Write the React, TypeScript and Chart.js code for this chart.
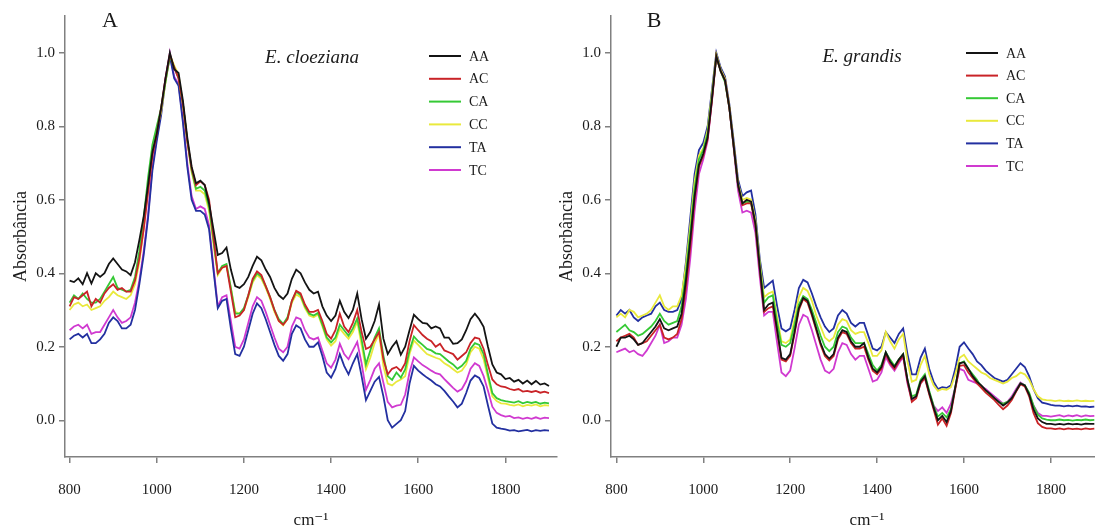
import React, { useEffect, useRef } from 'react';
import { Chart, registerables } from 'chart.js';

Chart.register(...registerables);
Chart.defaults.font.family = '"Liberation Serif", "DejaVu Serif", serif';

// ---------- data ----------
const wavenumbers = [
  800, 810, 820, 830, 840, 850, 860, 870, 880, 890,
  900, 910, 920, 930, 940, 950, 960, 970, 980, 990,
  1000, 1010, 1020, 1030, 1040, 1050, 1060, 1070, 1080, 1090,
  1100, 1110, 1120, 1130, 1140, 1150, 1160, 1170, 1180, 1190,
  1200, 1210, 1220, 1230, 1240, 1250, 1260, 1270, 1280, 1290,
  1300, 1310, 1320, 1330, 1340, 1350, 1360, 1370, 1380, 1390,
  1400, 1410, 1420, 1430, 1440, 1450, 1460, 1470, 1480, 1490,
  1500, 1510, 1520, 1530, 1540, 1550, 1560, 1570, 1580, 1590,
  1600, 1610, 1620, 1630, 1640, 1650, 1660, 1670, 1680, 1690,
  1700, 1710, 1720, 1730, 1740, 1750, 1760, 1770, 1780, 1790,
  1800, 1810, 1820, 1830, 1840, 1850, 1860, 1870, 1880, 1890,
  1900,
];

const seriesLabels = ['AA', 'AC', 'CA', 'CC', 'TA', 'TC'];
const xTicks = [800, 1000, 1200, 1400, 1600, 1800];
const yTicks = [0.0, 0.2, 0.4, 0.6, 0.8, 1.0];

// Panel A: E. cloeziana
const cloezianaAA = [
  0.38, 0.376, 0.386, 0.37, 0.40, 0.372, 0.40, 0.39, 0.40, 0.425,
  0.44, 0.425, 0.41, 0.405, 0.395, 0.43, 0.49, 0.555, 0.64, 0.73,
  0.78, 0.85, 0.93, 1.0, 0.955, 0.945, 0.87, 0.77, 0.69, 0.645,
  0.652, 0.64, 0.59, 0.52, 0.45, 0.455, 0.47, 0.41, 0.365, 0.36,
  0.37, 0.39, 0.42, 0.445, 0.435, 0.41, 0.39, 0.36, 0.34, 0.33,
  0.345, 0.385, 0.41, 0.40, 0.375, 0.355, 0.345, 0.35, 0.31, 0.285,
  0.27, 0.285, 0.325, 0.295, 0.278, 0.30, 0.345, 0.275, 0.222, 0.24,
  0.27, 0.315, 0.222, 0.18, 0.2, 0.215, 0.178, 0.2, 0.245, 0.287,
  0.275, 0.265, 0.263, 0.25, 0.255, 0.25, 0.225, 0.225, 0.208, 0.21,
  0.22, 0.245, 0.275, 0.29, 0.275, 0.254, 0.2, 0.152, 0.13, 0.125,
  0.112, 0.115, 0.105, 0.11, 0.1, 0.108, 0.098, 0.107, 0.097, 0.1,
  0.093,
];
const cloezianaAC = [
  0.31, 0.335, 0.33, 0.34, 0.35, 0.31, 0.33, 0.32, 0.345, 0.36,
  0.37, 0.355, 0.36, 0.35, 0.35, 0.38, 0.44, 0.52, 0.62, 0.72,
  0.78, 0.85, 0.93, 0.995, 0.96, 0.93, 0.86, 0.76, 0.685, 0.64,
  0.65, 0.64, 0.60, 0.50, 0.40, 0.415, 0.42, 0.35, 0.28, 0.285,
  0.30, 0.34, 0.385, 0.405, 0.395, 0.365, 0.335, 0.30, 0.27, 0.26,
  0.275, 0.325, 0.352, 0.345, 0.315, 0.295, 0.295, 0.30, 0.27, 0.235,
  0.222, 0.245, 0.29, 0.255, 0.24, 0.265, 0.30, 0.24, 0.194, 0.2,
  0.22, 0.24, 0.166, 0.125, 0.14, 0.145, 0.134, 0.155, 0.215, 0.259,
  0.245, 0.232, 0.222, 0.215, 0.2, 0.208, 0.19, 0.185, 0.18, 0.165,
  0.175, 0.185, 0.21, 0.225, 0.222, 0.194, 0.15, 0.111, 0.098, 0.092,
  0.09, 0.085, 0.082, 0.085, 0.078, 0.08, 0.077, 0.08, 0.075, 0.078,
  0.074,
];
const cloezianaCA = [
  0.32, 0.34, 0.33, 0.345, 0.33, 0.32, 0.32, 0.33, 0.35, 0.37,
  0.39, 0.36, 0.355, 0.35, 0.355, 0.39, 0.46, 0.55, 0.66, 0.75,
  0.80, 0.85, 0.92, 0.99, 0.96, 0.93, 0.86, 0.76, 0.68, 0.63,
  0.635, 0.625, 0.58, 0.49, 0.40, 0.42, 0.425, 0.36, 0.29, 0.29,
  0.305, 0.34, 0.38, 0.40, 0.39, 0.365, 0.335, 0.30, 0.275, 0.262,
  0.28, 0.325, 0.35, 0.34, 0.31, 0.29, 0.285, 0.292, 0.26, 0.225,
  0.212, 0.225, 0.26, 0.245, 0.23, 0.25, 0.277, 0.22, 0.152, 0.19,
  0.225, 0.25, 0.176, 0.12, 0.11, 0.13, 0.116, 0.138, 0.19, 0.228,
  0.215, 0.205, 0.194, 0.19, 0.182, 0.18, 0.17, 0.16, 0.152, 0.14,
  0.148, 0.162, 0.195, 0.21, 0.205, 0.18, 0.125, 0.074, 0.06, 0.055,
  0.052, 0.05, 0.048, 0.052, 0.046, 0.05, 0.047, 0.05, 0.045, 0.048,
  0.046,
];
const cloezianaCC = [
  0.30, 0.315, 0.32, 0.31, 0.315, 0.30, 0.305, 0.31, 0.325, 0.335,
  0.35, 0.34, 0.335, 0.33, 0.34, 0.37, 0.43, 0.52, 0.63, 0.73,
  0.79, 0.84, 0.92, 0.995, 0.965, 0.94, 0.86, 0.76, 0.675, 0.625,
  0.625, 0.615, 0.57, 0.48, 0.395, 0.415, 0.42, 0.36, 0.295, 0.29,
  0.30, 0.335, 0.375, 0.395, 0.385, 0.36, 0.33, 0.295, 0.27, 0.258,
  0.275, 0.32, 0.342, 0.335, 0.305, 0.285, 0.28, 0.288, 0.255, 0.22,
  0.203, 0.215, 0.25, 0.235, 0.222, 0.24, 0.268, 0.205, 0.139, 0.17,
  0.21, 0.235, 0.148, 0.1, 0.095, 0.105, 0.111, 0.12, 0.18, 0.217,
  0.205, 0.192, 0.18, 0.175, 0.17, 0.166, 0.155, 0.148, 0.139, 0.13,
  0.135, 0.152, 0.185, 0.2, 0.195, 0.166, 0.115, 0.065, 0.052, 0.046,
  0.045, 0.042, 0.04, 0.043, 0.038, 0.042, 0.04, 0.043, 0.038, 0.041,
  0.04,
];
const cloezianaTA = [
  0.22, 0.23, 0.235, 0.225, 0.235, 0.21, 0.21, 0.22, 0.235, 0.265,
  0.28, 0.27, 0.25, 0.25, 0.26, 0.30, 0.37, 0.45, 0.55, 0.68,
  0.76, 0.83, 0.925, 0.99, 0.93, 0.91, 0.81, 0.69, 0.60, 0.57,
  0.57, 0.56, 0.52, 0.41, 0.305, 0.325, 0.33, 0.25, 0.18, 0.175,
  0.20, 0.245, 0.29, 0.318, 0.305, 0.275, 0.24, 0.205, 0.175, 0.162,
  0.18, 0.235, 0.258, 0.25, 0.22, 0.20, 0.20, 0.212, 0.175, 0.13,
  0.116, 0.14, 0.18, 0.148, 0.125, 0.155, 0.18, 0.12, 0.055, 0.08,
  0.105, 0.118, 0.065, 0.0, -0.02, -0.01, 0.0, 0.025, 0.1, 0.148,
  0.135, 0.125, 0.116, 0.108, 0.098, 0.092, 0.08, 0.065, 0.051, 0.035,
  0.045, 0.074, 0.108, 0.122, 0.115, 0.092, 0.04, -0.009, -0.02, -0.023,
  -0.025, -0.028, -0.027, -0.03, -0.028, -0.026, -0.03, -0.027, -0.029, -0.027,
  -0.028,
];
const cloezianaTC = [
  0.245, 0.255, 0.26, 0.25, 0.26, 0.235, 0.24, 0.24, 0.26, 0.28,
  0.30, 0.28, 0.265, 0.27, 0.28, 0.32, 0.38, 0.46, 0.56, 0.69,
  0.77, 0.84, 0.93, 1.0, 0.935, 0.915, 0.82, 0.70, 0.61, 0.575,
  0.582, 0.575, 0.53, 0.42, 0.31, 0.335, 0.34, 0.27, 0.20, 0.195,
  0.22, 0.265, 0.31, 0.335, 0.325, 0.295, 0.26, 0.225, 0.195, 0.185,
  0.20, 0.255, 0.28, 0.275, 0.245, 0.225, 0.22, 0.225, 0.19, 0.155,
  0.143, 0.165, 0.208, 0.18, 0.166, 0.19, 0.213, 0.155, 0.083, 0.11,
  0.14, 0.155, 0.102, 0.05, 0.035, 0.04, 0.042, 0.07, 0.13, 0.171,
  0.16, 0.15, 0.143, 0.135, 0.128, 0.125, 0.112, 0.1, 0.088, 0.078,
  0.085, 0.106, 0.14, 0.155, 0.148, 0.12, 0.08, 0.037, 0.02, 0.014,
  0.01, 0.012, 0.006, 0.008, 0.004, 0.007, 0.004, 0.008, 0.004, 0.007,
  0.006,
];

// Panel B: E. grandis
const grandisAA = [
  0.20, 0.225, 0.225, 0.23, 0.22, 0.205, 0.21, 0.225, 0.24, 0.255,
  0.275, 0.25, 0.245, 0.25, 0.255, 0.29, 0.38, 0.49, 0.61, 0.695,
  0.725, 0.77, 0.875, 0.99, 0.95, 0.925, 0.85, 0.745, 0.64, 0.59,
  0.60, 0.595, 0.535, 0.415, 0.30, 0.315, 0.32, 0.245, 0.17, 0.165,
  0.18, 0.24, 0.305, 0.333, 0.325, 0.29, 0.25, 0.21, 0.18, 0.168,
  0.18, 0.225, 0.245, 0.24, 0.215, 0.2, 0.2, 0.21, 0.17, 0.14,
  0.13, 0.145, 0.185, 0.16, 0.145, 0.165, 0.18, 0.11, 0.058, 0.065,
  0.105, 0.12, 0.075, 0.035, 0.0, 0.012, -0.005, 0.025, 0.09, 0.155,
  0.158, 0.14, 0.12, 0.105, 0.095, 0.082, 0.072, 0.06, 0.05, 0.04,
  0.048, 0.06, 0.08, 0.1, 0.095, 0.07, 0.03, 0.005, -0.005, -0.01,
  -0.01, -0.012, -0.01, -0.012, -0.009, -0.011, -0.01, -0.012, -0.009, -0.01,
  -0.01,
];
const grandisAC = [
  0.215, 0.225, 0.23, 0.235, 0.225, 0.205, 0.21, 0.215, 0.23, 0.245,
  0.26, 0.225, 0.22, 0.225, 0.235, 0.275, 0.36, 0.47, 0.60, 0.69,
  0.72, 0.765, 0.87, 0.99, 0.95, 0.925, 0.85, 0.745, 0.64, 0.585,
  0.59, 0.59, 0.53, 0.41, 0.295, 0.305, 0.31, 0.24, 0.165, 0.16,
  0.175, 0.235, 0.30, 0.33, 0.32, 0.285, 0.245, 0.205, 0.175, 0.163,
  0.175, 0.22, 0.24, 0.235, 0.21, 0.195, 0.195, 0.2, 0.165, 0.135,
  0.125, 0.14, 0.18, 0.155, 0.14, 0.16, 0.175, 0.105, 0.05, 0.06,
  0.1, 0.115, 0.07, 0.03, -0.012, 0.005, -0.015, 0.02, 0.085, 0.148,
  0.15, 0.13, 0.115, 0.1, 0.088, 0.075, 0.065, 0.055, 0.042, 0.03,
  0.04, 0.055, 0.078, 0.098, 0.092, 0.065, 0.02, -0.008, -0.018, -0.022,
  -0.022, -0.024, -0.022, -0.025, -0.022, -0.024, -0.023, -0.025, -0.022, -0.024,
  -0.023,
];
const grandisCA = [
  0.24, 0.25, 0.26, 0.245, 0.24, 0.23, 0.235, 0.245, 0.255, 0.27,
  0.29, 0.27, 0.26, 0.265, 0.27, 0.31, 0.40, 0.51, 0.63, 0.71,
  0.735, 0.78, 0.88, 0.99, 0.95, 0.92, 0.85, 0.745, 0.64, 0.59,
  0.595, 0.59, 0.535, 0.42, 0.32, 0.335, 0.34, 0.265, 0.205, 0.20,
  0.21, 0.26, 0.315, 0.338, 0.33, 0.30, 0.265, 0.23, 0.2, 0.188,
  0.2, 0.24, 0.255, 0.25, 0.225, 0.21, 0.21, 0.21, 0.18, 0.15,
  0.135, 0.15, 0.185, 0.165, 0.148, 0.165, 0.18, 0.11, 0.065, 0.07,
  0.11, 0.125, 0.08, 0.04, 0.01, 0.02, 0.008, 0.03, 0.09, 0.155,
  0.16, 0.14, 0.125, 0.11, 0.09, 0.08, 0.07, 0.06, 0.05, 0.045,
  0.05, 0.06, 0.08, 0.1, 0.095, 0.075, 0.04, 0.015, 0.005, 0.002,
  0.0, 0.0, 0.002, 0.0, 0.001, -0.001, 0.001, 0.0, 0.002, 0.0,
  0.001,
];
const grandisCC = [
  0.28, 0.29, 0.28, 0.30, 0.295, 0.28, 0.285, 0.29, 0.30, 0.32,
  0.34, 0.31, 0.30, 0.31, 0.31, 0.34, 0.42, 0.53, 0.65, 0.72,
  0.74, 0.79, 0.89, 0.995, 0.955, 0.93, 0.855, 0.75, 0.645, 0.60,
  0.605, 0.60, 0.545, 0.43, 0.335, 0.345, 0.35, 0.28, 0.215, 0.21,
  0.22, 0.275, 0.335, 0.36, 0.352, 0.325, 0.285, 0.255, 0.225, 0.215,
  0.225, 0.26, 0.275, 0.27, 0.245, 0.235, 0.24, 0.24, 0.21, 0.175,
  0.175, 0.19, 0.24, 0.215, 0.195, 0.22, 0.235, 0.16, 0.105, 0.11,
  0.15, 0.175, 0.125, 0.095, 0.08, 0.085, 0.083, 0.09, 0.125, 0.17,
  0.178, 0.16, 0.15, 0.14, 0.13, 0.125, 0.115, 0.11, 0.105, 0.1,
  0.105, 0.115, 0.12, 0.13, 0.125, 0.11, 0.085, 0.065, 0.057, 0.055,
  0.054, 0.052, 0.054, 0.052, 0.053, 0.052, 0.054, 0.052, 0.053, 0.052,
  0.053,
];
const grandisTA = [
  0.285, 0.30, 0.29, 0.30, 0.28, 0.27, 0.28, 0.285, 0.29, 0.31,
  0.32, 0.30, 0.295, 0.295, 0.30, 0.33, 0.43, 0.55, 0.67, 0.735,
  0.755, 0.80, 0.90, 1.0, 0.96, 0.935, 0.86, 0.76, 0.655, 0.61,
  0.62, 0.625, 0.56, 0.44, 0.36, 0.37, 0.38, 0.31, 0.25, 0.242,
  0.25, 0.30, 0.36, 0.382, 0.375, 0.345, 0.31, 0.28, 0.255, 0.24,
  0.25, 0.285, 0.30, 0.29, 0.265, 0.255, 0.265, 0.265, 0.23, 0.195,
  0.19, 0.2, 0.24, 0.225, 0.21, 0.235, 0.25, 0.18, 0.125, 0.125,
  0.17, 0.195, 0.14, 0.105, 0.085, 0.09, 0.088, 0.095, 0.14, 0.20,
  0.212, 0.195, 0.18, 0.16, 0.15, 0.135, 0.125, 0.115, 0.11, 0.105,
  0.11, 0.125, 0.14, 0.155, 0.145, 0.12, 0.085, 0.06, 0.048, 0.045,
  0.042, 0.04, 0.04, 0.038, 0.04, 0.038, 0.04, 0.037, 0.038, 0.036,
  0.037,
];
const grandisTC = [
  0.185, 0.19, 0.195, 0.185, 0.19, 0.18, 0.175, 0.19, 0.21, 0.23,
  0.26, 0.21, 0.215, 0.225, 0.225, 0.26, 0.33, 0.44, 0.57, 0.67,
  0.71, 0.76, 0.87, 0.995, 0.955, 0.93, 0.85, 0.74, 0.625, 0.565,
  0.57, 0.565, 0.51, 0.39, 0.285, 0.295, 0.295, 0.21, 0.13, 0.12,
  0.135, 0.195, 0.26, 0.287, 0.28, 0.245, 0.205, 0.165, 0.135, 0.128,
  0.14, 0.185, 0.21, 0.205, 0.18, 0.165, 0.175, 0.175, 0.14, 0.105,
  0.11, 0.13, 0.172, 0.15, 0.135, 0.155, 0.172, 0.1, 0.055, 0.065,
  0.1, 0.115, 0.075, 0.04, 0.025, 0.035, 0.02, 0.045, 0.09, 0.14,
  0.135, 0.11, 0.105, 0.1, 0.092, 0.085, 0.075, 0.065, 0.055, 0.045,
  0.05, 0.065, 0.085, 0.103, 0.095, 0.07, 0.04, 0.02, 0.012, 0.012,
  0.01, 0.012, 0.014, 0.01, 0.013, 0.011, 0.014, 0.01, 0.013, 0.011,
  0.012,
];

// ---------- styles ----------
const seriesColors = ['#141414', '#c92327', '#35c935', '#e9e93c', '#2330a0', '#d03ad0'];
const axisColor = '#808080';
const textColor = '#1a1a1a';
const fontFamily = '"Liberation Serif", "DejaVu Serif", serif';

const annotatePlugin = {
  id: 'annotate',
  afterDraw(chart: any, _args: any, opts: any) {
    const ctx = chart.ctx;
    ctx.save();
    ctx.fillStyle = textColor;
    ctx.textBaseline = 'middle';
    ctx.textAlign = 'center';
    ctx.font = `22px ${fontFamily}`;
    ctx.fillText(opts.letter, opts.letterX, opts.letterY);
    ctx.font = `italic 19px ${fontFamily}`;
    ctx.fillText(opts.species, opts.speciesX, opts.speciesY);
    ctx.font = `14px ${fontFamily}`;
    ctx.textAlign = 'left';
    chart.data.datasets.forEach((ds: any, i: number) => {
      const y = opts.legendY + i * opts.legendGap;
      ctx.strokeStyle = ds.borderColor;
      ctx.lineWidth = 2;
      ctx.beginPath();
      ctx.moveTo(opts.legendX, y);
      ctx.lineTo(opts.legendX + 32, y);
      ctx.stroke();
      ctx.fillStyle = textColor;
      ctx.fillText(ds.label, opts.legendX + 40, y + 1);
    });
    ctx.restore();
  },
};

function buildConfig(series: number[][], panel: any) {
  return {
    type: 'line' as const,
    data: {
      datasets: seriesLabels.map((label, i) => ({
        label,
        data: wavenumbers.map((x, j) => ({ x, y: series[i][j] })),
        borderColor: seriesColors[i],
        backgroundColor: seriesColors[i],
        borderWidth: 1.8,
        pointRadius: 0,
        tension: 0,
        fill: false,
      })),
    },
    options: {
      animation: false as const,
      responsive: false,
      events: [],
      layout: { padding: { left: 0, right: panel.padRight, top: 16, bottom: 0 } },
      scales: {
        x: {
          type: 'linear' as const,
          min: panel.xMin,
          max: panel.xMax,
          afterBuildTicks: (s: any) => {
            s.ticks = xTicks.map((v) => ({ value: v }));
          },
          afterFit: (s: any) => {
            s.height = 75;
          },
          grid: { drawOnChartArea: false, drawTicks: true, tickLength: 6, color: axisColor, lineWidth: 1.5 },
          border: { display: true, color: axisColor, width: 1.5 },
          ticks: {
            padding: 18,
            color: textColor,
            font: { size: 15 },
            maxRotation: 0,
            autoSkip: false,
            callback: (v: any) => String(v),
          },
          title: {
            display: true,
            text: 'cm⁻¹',
            color: textColor,
            font: { size: 17 },
            padding: { top: 0, bottom: 1 },
          },
        },
        y: {
          type: 'linear' as const,
          min: -0.1,
          max: 1.1,
          afterBuildTicks: (s: any) => {
            s.ticks = yTicks.map((v) => ({ value: v }));
          },
          afterFit: (s: any) => {
            s.width = 65;
          },
          grid: { drawOnChartArea: false, drawTicks: true, tickLength: 6, color: axisColor, lineWidth: 1.5 },
          border: { display: true, color: axisColor, width: 1.5 },
          ticks: {
            padding: 4,
            color: textColor,
            font: { size: 15 },
            callback: (v: any) => Number(v).toFixed(1),
          },
          title: {
            display: true,
            text: 'Absorbância',
            color: textColor,
            font: { size: 18 },
            padding: { top: 10, bottom: 0 },
          },
        },
      },
      plugins: {
        legend: { display: false },
        tooltip: { enabled: false },
        annotate: panel.annotate,
      },
    },
    plugins: [annotatePlugin],
  };
}

const panelA = {
  padRight: 13,
  xMin: 789.4,
  xMax: 1918.4,
  annotate: {
    letter: 'A', letterX: 110, letterY: 21,
    species: 'E. cloeziana', speciesX: 312, speciesY: 58,
    legendX: 429, legendY: 56, legendGap: 22.8,
  },
};

const panelB = {
  padRight: 13,
  xMin: 787.6,
  xMax: 1966,
  annotate: {
    letter: 'B', letterX: 108, letterY: 21,
    species: 'E. grandis', speciesX: 316, speciesY: 57,
    legendX: 420, legendY: 53, legendGap: 22.6,
  },
};

function SpectrumPanel({ series, panel, left, width }: any) {
  const ref = useRef<HTMLCanvasElement | null>(null);
  useEffect(() => {
    if (!ref.current) return;
    const chart = new Chart(ref.current, buildConfig(series, panel) as any);
    return () => chart.destroy();
  }, [series, panel]);
  return (
    <div style={{ position: 'absolute', left, top: 0, width, height: 532 }}>
      <canvas ref={ref} width={width} height={532} style={{ display: 'block', width, height: 532 }} />
    </div>
  );
}

const seriesA = [cloezianaAA, cloezianaAC, cloezianaCA, cloezianaCC, cloezianaTA, cloezianaTC];
const seriesB = [grandisAA, grandisAC, grandisCA, grandisCC, grandisTA, grandisTC];

export default function App() {
  return (
    <div
      style={{
        position: 'fixed',
        left: 0,
        top: 0,
        width: 1095,
        height: 532,
        overflow: 'hidden',
        background: '#ffffff',
      }}
    >
      <SpectrumPanel series={seriesA} panel={panelA} left={0} width={570} />
      <SpectrumPanel series={seriesB} panel={panelB} left={546} width={590} />
    </div>
  );
}
